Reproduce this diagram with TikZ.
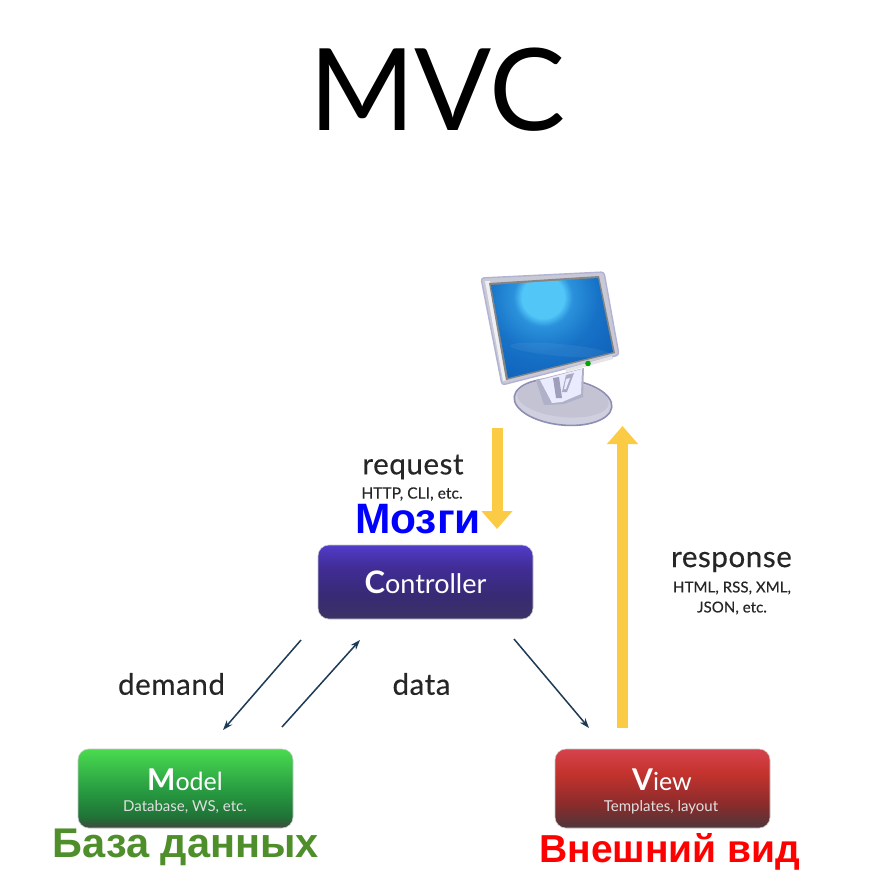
\documentclass[tikz,border=0pt]{standalone}
\usepackage{fontspec}
\setmainfont{Lato}
\newfontfamily\rusfont{Liberation Sans}
\newfontfamily\labfont[LetterSpace=2,FakeBold=0.35]{Lato}
\newfontfamily\subfont[LetterSpace=0.5,FakeBold=0.3]{Lato}
\usetikzlibrary{arrows.meta,shapes.geometric}
\definecolor{cgold}{HTML}{FBCB45}
\definecolor{cnavy}{HTML}{1D3A56}
\definecolor{cgreenru}{HTML}{4F8F2B}
\definecolor{cbezel}{HTML}{C9C9D6}
\definecolor{cdisc}{HTML}{CFCFE0}
\definecolor{cedge}{HTML}{8E8EB0}
\pgfdeclareverticalshading{ctrlshade}{100bp}{
 rgb(0bp)=(0.235,0.200,0.400);
 rgb(25bp)=(0.235,0.200,0.400);
 rgb(40bp)=(0.220,0.165,0.450);
 rgb(60bp)=(0.255,0.175,0.590);
 rgb(75bp)=(0.320,0.235,0.790);
 rgb(100bp)=(0.320,0.235,0.790)}
\pgfdeclareverticalshading{modelshade}{100bp}{
 rgb(0bp)=(0.250,0.290,0.250);
 rgb(25bp)=(0.250,0.290,0.250);
 rgb(32bp)=(0.120,0.450,0.210);
 rgb(50bp)=(0.160,0.620,0.260);
 rgb(75bp)=(0.290,0.860,0.310);
 rgb(100bp)=(0.290,0.860,0.310)}
\pgfdeclareverticalshading{viewshade}{100bp}{
 rgb(0bp)=(0.310,0.210,0.230);
 rgb(25bp)=(0.310,0.210,0.230);
 rgb(40bp)=(0.540,0.170,0.170);
 rgb(60bp)=(0.770,0.200,0.180);
 rgb(75bp)=(0.840,0.260,0.300);
 rgb(100bp)=(0.840,0.260,0.300)}
\pgfdeclareradialshading{screenshade}{\pgfpointorigin}{
 rgb(0bp)=(0.320,0.780,0.970);
 rgb(5bp)=(0.320,0.780,0.970);
 rgb(7bp)=(0.170,0.570,0.860);
 rgb(13bp)=(0.090,0.450,0.780);
 rgb(25bp)=(0.050,0.360,0.710);
 rgb(50bp)=(0.030,0.260,0.620)}
\tikzset{
 btn/.style={rounded corners=11pt,draw=black!22,line width=.6pt,minimum width=215pt,text=white,align=center,inner sep=0pt},
 bigarrow/.style={draw=cgold,line width=11pt,-{Triangle[length=18pt,width=30pt,fill=cgold]}},
 thinarrow/.style={draw=cnavy,line width=1.5pt,-{Stealth[length=10pt,width=7pt]}},
 lab/.style={text=black!85,inner sep=0pt},
 rulab/.style={font=\rusfont\bfseries,inner sep=0pt}
}
\begin{document}
\begin{tikzpicture}[x=1pt,y=-1pt]
\useasboundingbox (0,0) rectangle (871,895);
\fill[white] (0,0) rectangle (871,895);
% title
\node[inner sep=0pt,text=black] (title) at (437.5,90) {\fontsize{114}{114}\selectfont MVC};
% monitor base
\fill[cdisc,draw=cedge,line width=1.6pt,rotate around={-6:(563,402)}] (563,402) ellipse [x radius=49,y radius=23];
\fill[black!6!cdisc,rotate around={-6:(563,399)}] (563,399) ellipse [x radius=46,y radius=18];
% stand
\fill[cedge!70] (536,380) -- (584,368) -- (583,397) -- (564,404) -- (544,405) -- cycle;
\fill[white!92!blue] (540,380) -- (582,369) -- (581,394) -- (562,402) -- (552,403) -- cycle;
\fill[cedge!85] (553,378) -- (559,377) -- (562,398) -- (556,398) -- cycle;
\fill[cedge!75] (566,375) -- (574,373) -- (567,392) -- (562,392) -- cycle;
\fill[white!92!blue] (566,379) -- (570,378) -- (566,389) -- (564,389) -- cycle;
% monitor frame
\fill[cbezel,draw=black!55!blue!30!white,line width=1.4pt,rounded corners=3pt] (481,278) -- (604,272) -- (619,355) -- (502,385) -- cycle;
\fill[white!70!cbezel] (485,281) -- (490,281) -- (507,380) -- (503,381) -- cycle;
\fill[black!48] (489,283) -- (599,276) -- (615,353) -- (506,380) -- cycle;
\begin{scope}
\clip (491,285) -- (598,278) -- (613,352) -- (508,378) -- cycle;
\shade[shading=screenshade] (543,297) circle [radius=105];
\fill[white,opacity=.06,rotate around={-5:(560,350)}] (560,350) ellipse [x radius=50,y radius=6];
\end{scope}
\fill[black!10] (565,369) -- (612,356) -- (613,359) -- (566,372) -- cycle;
\fill[green!65!black] (588,363.5) circle [radius=2.8];
% big arrows
\coordinate (reqs) at (497,428);
\coordinate (reqe) at (497,529);
\draw[bigarrow] (reqs) -- (reqe);
\coordinate (rese) at (622.5,426);
\coordinate (ress) at (622.5,728);
\draw[bigarrow] (ress) -- (rese);
% buttons
\node[btn,minimum height=74pt,shading=ctrlshade] (ctrl) at (425.5,582) {\fontsize{27}{27}\selectfont{\bfseries\fontsize{31}{31}\selectfont C}ontroller};
\node[btn,minimum height=79pt,shading=modelshade] (model) at (185.5,788.5) {};
\node[inner sep=0pt,text=white] (modelt) at (185,780) {\fontsize{25}{25}\selectfont{\bfseries\fontsize{30}{30}\selectfont M}odel};
\node[inner sep=0pt,text=white!88!black] (models) at (185,807) {\fontsize{15}{15}\selectfont Database, WS, etc.};
\node[btn,minimum height=79pt,shading=viewshade] (view) at (662.5,788.5) {};
\node[inner sep=0pt,text=white] (viewt) at (662,780) {\fontsize{25}{25}\selectfont{\bfseries\fontsize{30}{30}\selectfont V}iew};
\node[inner sep=0pt,text=white!88!black] (views) at (661,807) {\fontsize{15}{15}\selectfont Templates, layout};
% thin arrows
\coordinate (a1) at (301,640); \coordinate (a2) at (223,730);
\coordinate (b1) at (282,727); \coordinate (b2) at (360,640);
\coordinate (c1) at (514,639); \coordinate (c2) at (589,728);
\draw[thinarrow] (a1) -- (a2);
\draw[thinarrow] (b1) -- (b2);
\draw[thinarrow] (c1) -- (c2);
% labels
\node[lab] (request) at (413,467) {\labfont\fontsize{29.5}{29.5}\selectfont request};
\node[lab] (http) at (412,494) {\subfont\fontsize{15.5}{15.5}\selectfont HTTP, CLI, etc.};
\node[rulab,text=blue] (brain) at (418,519) {\fontsize{42.5}{42.5}\selectfont Мозги};
\node[lab] (response) at (731.5,562) {\labfont\fontsize{29.5}{29.5}\selectfont response};
\node[lab,align=center,font=\subfont\fontsize{15}{20}\selectfont] (html) at (732,598) {HTML, RSS, XML,\\JSON, etc.};
\node[lab] (demand) at (171.5,684) {\labfont\fontsize{29.5}{29.5}\selectfont demand};
\node[lab] (data) at (421.5,684) {\labfont\fontsize{29.5}{29.5}\selectfont data};
\node[rulab,text=cgreenru] (db) at (186,847) {\fontsize{41.5}{41.5}\selectfont База данных};
\node[rulab,text=red] (look) at (670,852) {\fontsize{39}{39}\selectfont Внешний вид};
\end{tikzpicture}
\end{document}
